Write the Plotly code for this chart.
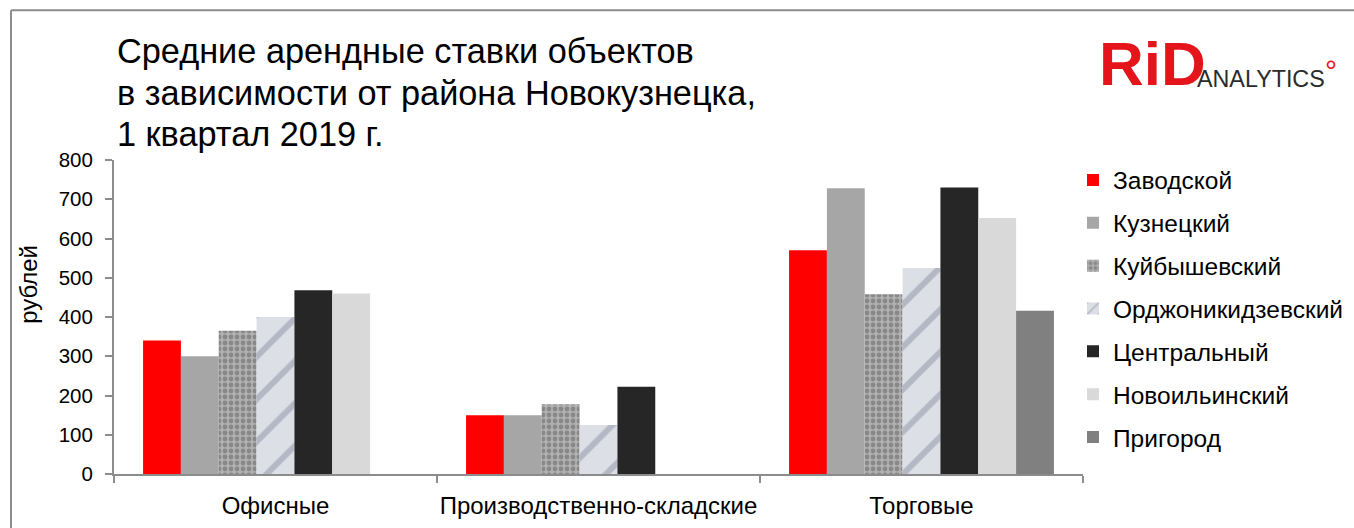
import plotly.graph_objects as go

categories = ["Офисные", "Производственно-складские", "Торговые"]

districts = ["Заводской", "Кузнецкий", "Куйбышевский", "Орджоникидзевский",
             "Центральный", "Новоильинский", "Пригород"]

zavodskoy = [340, 150, 570]
kuznetskiy = [300, 150, 728]
kuybyshevskiy = [365, 178, 458]
ordzhonikidzevskiy = [400, 125, 525]
tsentralnyy = [468, 222, 730]
novoilinskiy = [460, None, 652]
prigorod = [None, None, 416]

y_ticks = [0, 100, 200, 300, 400, 500, 600, 700, 800]

title_lines = ["Средние арендные ставки объектов",
               "в зависимости от района Новокузнецка,",
               "1 квартал 2019 г."]

series_values = [zavodskoy, kuznetskiy, kuybyshevskiy, ordzhonikidzevskiy,
                 tsentralnyy, novoilinskiy, prigorod]

styles = [
    dict(color="#FF0000"),
    dict(color="#A6A6A6"),
    dict(color="#b0b0b0",
         pattern=dict(shape=".", fgcolor="#606060", size=6, solidity=0.5,
                      fillmode="overlay")),
    dict(color="#dcdfe5",
         pattern=dict(shape="/", fgcolor="#8c92a4", size=30, solidity=0.2,
                      fillmode="overlay")),
    dict(color="#262626"),
    dict(color="#D9D9D9"),
    dict(color="#808080"),
]

FONT = "Liberation Sans, Arial, sans-serif"

fig = go.Figure()
for name, vals, st in zip(districts, series_values, styles):
    fig.add_trace(go.Bar(
        name=name, x=categories, y=vals, legendgroup=name,
        marker=dict(line=dict(width=0), **st),
    ))

W, H = 1354, 528
L, R, T, B = 114, 271, 160, 53.5
pw, ph = W - L - R, H - T - B


def px_x(px):
    return (px - L) / pw


def px_y(py):
    return (H - B - py) / ph


fig.update_layout(
    width=W, height=H,
    margin=dict(l=L, r=R, t=T, b=B, pad=0, autoexpand=False),
    paper_bgcolor="white", plot_bgcolor="white",
    barmode="group", bargap=0.18, bargroupgap=0,
    font=dict(family=FONT, size=20, color="#000000"),
    showlegend=True,
    legend=dict(
        x=px_x(1073), xanchor="left", y=px_y(157.5), yanchor="top",
        font=dict(family=FONT, size=24.5, color="#000000"),
        tracegroupgap=8, bgcolor="rgba(0,0,0,0)", maxheight=420,
    ),
    xaxis=dict(
        range=[-0.5, 2.5], showgrid=False, showline=True,
        linecolor="#8c8c8c", linewidth=2, automargin=False, tickangle=0,
        ticks="outside", ticklen=7, tickwidth=2, tickcolor="#8c8c8c",
        tickson="boundaries", ticklabelstandoff=9,
        tickfont=dict(family=FONT, size=24, color="#000000"),
    ),
    yaxis=dict(
        range=[0, 800], tickvals=y_ticks, showgrid=False, zeroline=False,
        showline=True, linecolor="#8c8c8c", linewidth=2, automargin=False,
        ticks="outside", ticklen=7, tickwidth=2, tickcolor="#8c8c8c",
        ticklabelstandoff=8,
        tickfont=dict(family=FONT, size=20.5, color="#000000"),
    ),
)

# frame around the slide
fig.add_shape(type="line", xref="paper", yref="paper",
              x0=px_x(11), x1=px_x(11), y0=px_y(H + 5), y1=px_y(10),
              line=dict(color="#8c8c8c", width=2))
fig.add_shape(type="line", xref="paper", yref="paper",
              x0=px_x(11), x1=px_x(W + 5), y0=px_y(10), y1=px_y(10),
              line=dict(color="#8c8c8c", width=2))

# heading, one annotation per line
for line_text, cy in zip(title_lines, [51, 93, 134]):
    fig.add_annotation(
        xref="paper", yref="paper", x=px_x(115), y=px_y(cy),
        xanchor="left", yanchor="middle", align="left", showarrow=False,
        text=line_text, font=dict(family=FONT, size=34.3, color="#000000"),
    )

# y-axis caption
fig.add_annotation(
    xref="paper", yref="paper", x=px_x(29), y=px_y(285),
    xanchor="center", yanchor="middle", showarrow=False, textangle=-90,
    text="рублей", font=dict(family=FONT, size=24, color="#000000"),
)

# company logo
fig.add_annotation(
    xref="paper", yref="paper", x=px_x(1097), y=px_y(100),
    xanchor="left", yanchor="bottom", showarrow=False,
    text="<b>RiD</b>", font=dict(family=FONT, size=62, color="#E5141B"),
)
fig.add_annotation(
    xref="paper", yref="paper", x=px_x(1195), y=px_y(94),
    xanchor="left", yanchor="bottom", showarrow=False,
    text="ANALYTICS", font=dict(family=FONT, size=23.3, color="#2b2b2b"),
)
fig.add_annotation(
    xref="paper", yref="paper", x=px_x(1331), y=px_y(70),
    xanchor="center", yanchor="middle", showarrow=False,
    text="°", font=dict(family=FONT, size=30, color="#E5141B"),
)

fig.write_html("out.html")
